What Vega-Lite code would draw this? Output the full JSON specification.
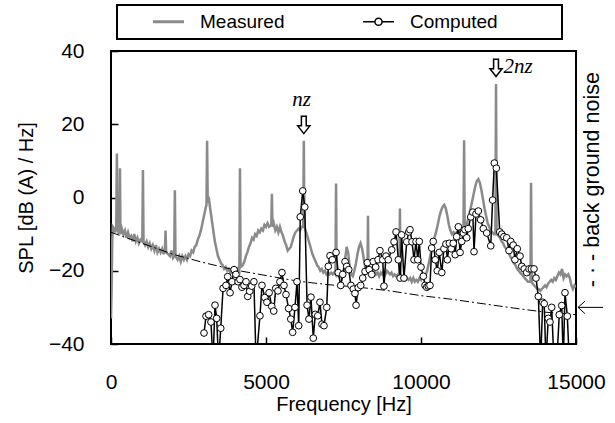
{
  "$schema": "https://vega.github.io/schema/vega-lite/v6.json",
  "width": 465,
  "height": 293,
  "autosize": {"type": "none"},
  "padding": {"left": 111, "top": 51, "right": 39, "bottom": 79},
  "background": "white",
  "config": {
    "font": "Liberation Sans",
    "view": {"stroke": "black", "strokeWidth": 2},
    "axis": {
      "grid": false,
      "domain": false,
      "tickColor": "black",
      "tickWidth": 1.5,
      "tickSize": -7,
      "labelColor": "black",
      "titleColor": "black",
      "labelFontSize": 21,
      "titleFontSize": 20,
      "titleFontWeight": "normal",
      "labelFont": "Liberation Sans",
      "titleFont": "Liberation Sans",
      "labelFlush": false
    }
  },
  "datasets": {
    "measured": [
      {"f":0,"v":-33},{"f":20,"v":-25},{"f":40,"v":-12},{"f":60,"v":-8},{"f":100,"v":-8.5},{"f":140,"v":-9.5},{"f":170,"v":-8},{"f":190,"v":12},{"f":210,"v":-8},{"f":250,"v":-10},{"f":275,"v":-9},{"f":290,"v":8},{"f":305,"v":-10},{"f":350,"v":-8.5},{"f":400,"v":-10},{"f":450,"v":-9},{"f":500,"v":-11},{"f":550,"v":-9.5},{"f":600,"v":-11},{"f":650,"v":-10.5},{"f":700,"v":-12},{"f":750,"v":-10},{"f":800,"v":-12},{"f":850,"v":-11},{"f":900,"v":-12.5},{"f":950,"v":-11.5},{"f":1010,"v":-12},{"f":1030,"v":7.5},{"f":1050,"v":-12},{"f":1100,"v":-13},{"f":1150,"v":-12},{"f":1200,"v":-13.5},{"f":1250,"v":-12.5},{"f":1300,"v":-14},{"f":1350,"v":-13},{"f":1400,"v":-14.5},{"f":1450,"v":-13},{"f":1500,"v":-15},{"f":1550,"v":-14},{"f":1600,"v":-15},{"f":1650,"v":-14},{"f":1700,"v":-15.5},{"f":1740,"v":-14},{"f":1760,"v":-9},{"f":1780,"v":-15},{"f":1850,"v":-15.5},{"f":1900,"v":-16},{"f":1950,"v":-14.5},{"f":2000,"v":-16.5},{"f":2040,"v":-16},{"f":2060,"v":2},{"f":2080,"v":-16},{"f":2150,"v":-17},{"f":2200,"v":-16},{"f":2250,"v":-17.5},{"f":2300,"v":-16},{"f":2350,"v":-17},{"f":2400,"v":-16},{"f":2450,"v":-17},{"f":2500,"v":-15.5},{"f":2550,"v":-16},{"f":2600,"v":-14.5},{"f":2650,"v":-15},{"f":2700,"v":-13.5},{"f":2750,"v":-13},{"f":2800,"v":-11.5},{"f":2850,"v":-10.5},{"f":2900,"v":-9},{"f":2950,"v":-7},{"f":3000,"v":-5},{"f":3050,"v":-3},{"f":3080,"v":-2},{"f":3100,"v":15.5},{"f":3120,"v":-1},{"f":3160,"v":-0.5},{"f":3200,"v":-3},{"f":3250,"v":-6},{"f":3300,"v":-9},{"f":3350,"v":-12},{"f":3400,"v":-14},{"f":3450,"v":-16},{"f":3500,"v":-17},{"f":3550,"v":-18},{"f":3600,"v":-18.5},{"f":3650,"v":-19.5},{"f":3700,"v":-19},{"f":3750,"v":-20},{"f":3800,"v":-19.5},{"f":3850,"v":-20.5},{"f":3900,"v":-20},{"f":3950,"v":-21},{"f":4000,"v":-20},{"f":4050,"v":-20.5},{"f":4100,"v":-19.5},{"f":4140,"v":-20},{"f":4160,"v":8},{"f":4180,"v":-19},{"f":4250,"v":-18.5},{"f":4300,"v":-17.5},{"f":4350,"v":-16},{"f":4400,"v":-15},{"f":4450,"v":-13.5},{"f":4500,"v":-12.5},{"f":4550,"v":-11},{"f":4600,"v":-11.5},{"f":4650,"v":-10},{"f":4700,"v":-10.5},{"f":4750,"v":-9},{"f":4800,"v":-9.5},{"f":4850,"v":-8.5},{"f":4900,"v":-9},{"f":4950,"v":-7.5},{"f":5000,"v":-8},{"f":5050,"v":-7},{"f":5100,"v":-8},{"f":5170,"v":-7.5},{"f":5190,"v":1},{"f":5210,"v":-8},{"f":5250,"v":-7},{"f":5300,"v":-9},{"f":5350,"v":-8},{"f":5400,"v":-9.5},{"f":5450,"v":-8},{"f":5500,"v":-9.5},{"f":5550,"v":-10.5},{"f":5600,"v":-12},{"f":5650,"v":-13},{"f":5700,"v":-14.5},{"f":5750,"v":-14},{"f":5800,"v":-13.5},{"f":5850,"v":-12},{"f":5900,"v":-10.5},{"f":5950,"v":-9.5},{"f":6000,"v":-9},{"f":6050,"v":-8.5},{"f":6100,"v":-9},{"f":6150,"v":-8},{"f":6200,"v":-8},{"f":6220,"v":15.5},{"f":6240,"v":-8},{"f":6300,"v":-9.5},{"f":6350,"v":-11},{"f":6400,"v":-12.5},{"f":6450,"v":-14},{"f":6500,"v":-15.5},{"f":6550,"v":-16.5},{"f":6600,"v":-17.5},{"f":6650,"v":-18.5},{"f":6700,"v":-19},{"f":6750,"v":-20},{"f":6800,"v":-19.5},{"f":6850,"v":-20.5},{"f":6900,"v":-20},{"f":6950,"v":-21},{"f":7000,"v":-20.5},{"f":7050,"v":-21},{"f":7100,"v":-20.5},{"f":7150,"v":-21},{"f":7200,"v":-20.5},{"f":7240,"v":-21},{"f":7260,"v":3.8},{"f":7280,"v":-21},{"f":7350,"v":-21.5},{"f":7400,"v":-21},{"f":7450,"v":-22},{"f":7500,"v":-20.5},{"f":7550,"v":-17},{"f":7600,"v":-13.5},{"f":7650,"v":-15},{"f":7700,"v":-19},{"f":7750,"v":-21},{"f":7800,"v":-21.5},{"f":7850,"v":-20},{"f":7900,"v":-18},{"f":7950,"v":-15.5},{"f":8000,"v":-13.5},{"f":8050,"v":-12.5},{"f":8100,"v":-14},{"f":8150,"v":-16.5},{"f":8200,"v":-19},{"f":8250,"v":-20},{"f":8275,"v":-19},{"f":8290,"v":-5},{"f":8305,"v":-19.5},{"f":8350,"v":-20.5},{"f":8400,"v":-20},{"f":8450,"v":-21},{"f":8500,"v":-20},{"f":8550,"v":-21},{"f":8600,"v":-20.5},{"f":8650,"v":-21.5},{"f":8700,"v":-20.5},{"f":8750,"v":-21},{"f":8800,"v":-20},{"f":8850,"v":-21},{"f":8900,"v":-20},{"f":8950,"v":-20.5},{"f":9000,"v":-21},{"f":9050,"v":-20.5},{"f":9100,"v":-21.5},{"f":9150,"v":-21},{"f":9200,"v":-21.5},{"f":9250,"v":-21},{"f":9300,"v":-21},{"f":9320,"v":-3},{"f":9340,"v":-21},{"f":9400,"v":-22},{"f":9450,"v":-21.5},{"f":9500,"v":-22.5},{"f":9550,"v":-22},{"f":9600,"v":-22.5},{"f":9650,"v":-22},{"f":9700,"v":-23},{"f":9750,"v":-22},{"f":9800,"v":-23},{"f":9850,"v":-22.5},{"f":9900,"v":-23},{"f":9950,"v":-22},{"f":10000,"v":-22.5},{"f":10050,"v":-21.5},{"f":10100,"v":-22},{"f":10150,"v":-21},{"f":10200,"v":-20},{"f":10250,"v":-18},{"f":10300,"v":-16},{"f":10350,"v":-14},{"f":10400,"v":-12},{"f":10450,"v":-10.5},{"f":10500,"v":-9},{"f":10550,"v":-7},{"f":10600,"v":-5},{"f":10650,"v":-3.5},{"f":10700,"v":-2.5},{"f":10750,"v":-2},{"f":10800,"v":-3},{"f":10850,"v":-5},{"f":10900,"v":-7.5},{"f":10950,"v":-9},{"f":11000,"v":-10},{"f":11050,"v":-9.5},{"f":11100,"v":-10},{"f":11150,"v":-9.5},{"f":11200,"v":-10},{"f":11250,"v":-9},{"f":11300,"v":-9.5},{"f":11370,"v":-9},{"f":11390,"v":15.6},{"f":11410,"v":-9},{"f":11450,"v":-8},{"f":11500,"v":-6.5},{"f":11550,"v":-5},{"f":11600,"v":-3},{"f":11650,"v":-1},{"f":11700,"v":1},{"f":11750,"v":3},{"f":11800,"v":4.5},{"f":11850,"v":5},{"f":11900,"v":4},{"f":11950,"v":2},{"f":12000,"v":-0.5},{"f":12050,"v":-3},{"f":12100,"v":-5},{"f":12150,"v":-7},{"f":12200,"v":-8},{"f":12250,"v":-9},{"f":12300,"v":-9.5},{"f":12350,"v":-10},{"f":12400,"v":-10},{"f":12420,"v":31},{"f":12440,"v":-10},{"f":12500,"v":-10.5},{"f":12550,"v":-11},{"f":12600,"v":-12},{"f":12650,"v":-12.5},{"f":12700,"v":-13.5},{"f":12750,"v":-14},{"f":12800,"v":-15},{"f":12850,"v":-15.5},{"f":12900,"v":-16.5},{"f":12950,"v":-17},{"f":13000,"v":-18},{"f":13050,"v":-18.5},{"f":13100,"v":-19.5},{"f":13150,"v":-20},{"f":13200,"v":-20.5},{"f":13250,"v":-21},{"f":13300,"v":-21.5},{"f":13350,"v":-22},{"f":13400,"v":-22.5},{"f":13450,"v":-23},{"f":13530,"v":-23},{"f":13550,"v":4},{"f":13570,"v":-23},{"f":13600,"v":-23.5},{"f":13650,"v":-24},{"f":13700,"v":-24.5},{"f":13750,"v":-25},{"f":13800,"v":-25},{"f":13850,"v":-25.5},{"f":13900,"v":-25},{"f":13950,"v":-24.5},{"f":14000,"v":-24},{"f":14050,"v":-24.5},{"f":14100,"v":-23.5},{"f":14150,"v":-23},{"f":14200,"v":-22.5},{"f":14250,"v":-23},{"f":14300,"v":-22},{"f":14350,"v":-22.5},{"f":14400,"v":-21.5},{"f":14450,"v":-20.5},{"f":14500,"v":-21},{"f":14550,"v":-19.5},{"f":14600,"v":-22},{"f":14650,"v":-21},{"f":14700,"v":-21.5},{"f":14750,"v":-21},{"f":14800,"v":-22},{"f":14850,"v":-24},{"f":14900,"v":-25},{"f":14950,"v":-24},{"f":15000,"v":-24.5}
    ],
    "computed": [
      {"f":3000,"v":-37},{"f":3065,"v":-32.4},{"f":3150,"v":-32},{"f":3225,"v":-34},{"f":3290,"v":-45},{"f":3355,"v":-29.4},{"f":3410,"v":-33},{"f":3470,"v":-45},{"f":3540,"v":-35.7},{"f":3615,"v":-24.8},{"f":3710,"v":-24},{"f":3765,"v":-21.6},{"f":3840,"v":-26},{"f":3905,"v":-23},{"f":3970,"v":-19.7},{"f":4030,"v":-21},{"f":4100,"v":-23},{"f":4160,"v":-22.4},{"f":4225,"v":-24.5},{"f":4290,"v":-24},{"f":4355,"v":-23},{"f":4410,"v":-27},{"f":4475,"v":-25.6},{"f":4540,"v":-24.2},{"f":4610,"v":-23},{"f":4680,"v":-45},{"f":4805,"v":-32.3},{"f":4870,"v":-24},{"f":4960,"v":-27.3},{"f":5030,"v":-28.6},{"f":5100,"v":-26},{"f":5185,"v":-29.7},{"f":5250,"v":-31},{"f":5315,"v":-24.8},{"f":5385,"v":-25.5},{"f":5450,"v":-23},{"f":5515,"v":-20.5},{"f":5580,"v":-24},{"f":5645,"v":-26.5},{"f":5730,"v":-30.3},{"f":5800,"v":-33.2},{"f":5860,"v":-36.8},{"f":5935,"v":-30},{"f":6000,"v":-23},{"f":6055,"v":-35},{"f":6105,"v":-5.3},{"f":6185,"v":1.8},{"f":6250,"v":-2.6},{"f":6325,"v":-29.4},{"f":6385,"v":-33.2},{"f":6450,"v":-27.2},{"f":6525,"v":-38.4},{"f":6590,"v":-31.9},{"f":6670,"v":-32.3},{"f":6740,"v":-28.6},{"f":6805,"v":-34.6},{"f":6870,"v":-35},{"f":6960,"v":-30},{"f":7010,"v":-18.8},{"f":7065,"v":-15.9},{"f":7140,"v":-17},{"f":7260,"v":-15},{"f":7330,"v":-20.5},{"f":7410,"v":-24},{"f":7475,"v":-21},{"f":7550,"v":-17.5},{"f":7605,"v":-18.8},{"f":7670,"v":-19.7},{"f":7740,"v":-24},{"f":7815,"v":-25},{"f":7870,"v":-26.2},{"f":7905,"v":-29.4},{"f":7975,"v":-24.6},{"f":8055,"v":-24},{"f":8120,"v":-22},{"f":8195,"v":-20.2},{"f":8270,"v":-17.8},{"f":8330,"v":-19.7},{"f":8410,"v":-21},{"f":8460,"v":-17.5},{"f":8540,"v":-19},{"f":8615,"v":-17},{"f":8675,"v":-14.5},{"f":8765,"v":-17},{"f":8805,"v":-24.2},{"f":8870,"v":-16},{"f":8945,"v":-17},{"f":9055,"v":-14.3},{"f":9130,"v":-12.1},{"f":9195,"v":-9.4},{"f":9270,"v":-17},{"f":9325,"v":-22},{"f":9375,"v":-10.2},{"f":9450,"v":-22},{"f":9540,"v":-12.1},{"f":9605,"v":-9.4},{"f":9645,"v":-8.8},{"f":9710,"v":-12.1},{"f":9775,"v":-17},{"f":9840,"v":-12},{"f":9895,"v":-17},{"f":9945,"v":-12},{"f":10000,"v":-19},{"f":10075,"v":-21.5},{"f":10130,"v":-24},{"f":10185,"v":-24.5},{"f":10235,"v":-24.2},{"f":10290,"v":-24},{"f":10345,"v":-13.8},{"f":10395,"v":-12},{"f":10460,"v":-17},{"f":10525,"v":-20},{"f":10590,"v":-15},{"f":10670,"v":-20.5},{"f":10740,"v":-14},{"f":10805,"v":-12.7},{"f":10850,"v":-17},{"f":10915,"v":-12.5},{"f":10975,"v":-14},{"f":11040,"v":-12.5},{"f":11105,"v":-15.6},{"f":11150,"v":-10.7},{"f":11205,"v":-8},{"f":11260,"v":-15},{"f":11315,"v":-12},{"f":11365,"v":-9.7},{"f":11420,"v":-8.8},{"f":11475,"v":-11},{"f":11525,"v":-8.5},{"f":11605,"v":-5.3},{"f":11670,"v":-4},{"f":11710,"v":-14.8},{"f":11775,"v":-4.5},{"f":11850,"v":-3.7},{"f":11925,"v":-6.1},{"f":12010,"v":-8.5},{"f":12120,"v":-9.7},{"f":12250,"v":-13.2},{"f":12310,"v":-0.7},{"f":12365,"v":9.4},{"f":12430,"v":8},{"f":12540,"v":-9.4},{"f":12605,"v":-10},{"f":12675,"v":-10.7},{"f":12765,"v":-11},{"f":12840,"v":-14.5},{"f":12895,"v":-12},{"f":12975,"v":-13},{"f":13030,"v":-17},{"f":13105,"v":-14},{"f":13195,"v":-16},{"f":13250,"v":-18.8},{"f":13330,"v":-19.5},{"f":13410,"v":-20.5},{"f":13485,"v":-19.5},{"f":13560,"v":-19.5},{"f":13645,"v":-19.5},{"f":13710,"v":-22},{"f":13785,"v":-27},{"f":13860,"v":-45},{"f":13925,"v":-28.6},{"f":13975,"v":-29},{"f":14030,"v":-45},{"f":14105,"v":-33},{"f":14160,"v":-34},{"f":14215,"v":-30},{"f":14290,"v":-45},{"f":14380,"v":-45},{"f":14460,"v":-32},{"f":14540,"v":-29.5},{"f":14590,"v":-45},{"f":14645,"v":-26},{"f":14720,"v":-32.4},{"f":14785,"v":-45}
    ],
    "noise": [
      {"f":0,"v":-9.5},{"f":1000,"v":-12.5},{"f":2000,"v":-15.5},{"f":3000,"v":-17.8},{"f":4000,"v":-19.8},{"f":5000,"v":-21.3},{"f":6000,"v":-22.8},{"f":7000,"v":-23.8},{"f":8000,"v":-24.5},{"f":9000,"v":-25.5},{"f":10000,"v":-26.8},{"f":11000,"v":-27.8},{"f":12000,"v":-29},{"f":13000,"v":-30.2},{"f":14000,"v":-31.3},{"f":15000,"v":-32}
    ],
    "arrows": [
      {"label": "nz", "f": 6220, "v": 19.8},
      {"label": "2nz", "f": 12420, "v": 35.4}
    ],
    "labels": [
      {"label": "nz", "f": 6150, "v": 26.5},
      {"label": "2nz", "f": 13130, "v": 35.6}
    ],
    "note": [
      {"label": "- · -  back ground noise", "f": 15550, "v": -24.5, "af": 15470, "av": -30}
    ]
  },
  "layer": [
    {
      "data": {"name": "measured"},
      "mark": {"type": "line", "strokeWidth": 2.5, "clip": true},
      "encoding": {
        "x": {
          "field": "f", "type": "quantitative",
          "scale": {"domain": [0, 15000], "nice": false, "zero": false},
          "axis": {"values": [0, 5000, 10000, 15000], "format": "d", "title": "Frequency [Hz]", "labelPadding": 34, "titlePadding": 2}
        },
        "y": {
          "field": "v", "type": "quantitative",
          "scale": {"domain": [-40, 40], "nice": false, "zero": false},
          "axis": {"values": [-40, -20, 0, 20, 40], "title": "SPL [dB (A) / Hz]", "labelPadding": 34, "titlePadding": 12}
        },
        "color": {
          "datum": "Measured",
          "scale": {"domain": ["Measured", "Computed"], "range": ["#8a8a8a", "#000000"]},
          "legend": {
            "orient": "none",
            "legendX": 6,
            "legendY": -46,
            "direction": "horizontal",
            "title": "x",
            "titleOrient": "right",
            "titleOpacity": 0,
            "titleFontSize": 10,
            "titlePadding": 51,
            "strokeColor": "black",
            "padding": 7,
            "symbolOffset": 35,
            "columnPadding": 49,
            "labelOffset": 22,
            "symbolSize": 961,
            "labelFontSize": 19,
            "labelFont": "Liberation Sans",
            "labelColor": "black",
            "labelLimit": 500,
            "encode": {
              "legend": {"update": {"strokeWidth": {"value": 2}}},
              "symbols": {
                "update": {
                  "shape": {"signal": "datum.value === 'Measured' ? 'M-1,0L1,0' : 'M-1,0L-0.23,0M0.23,0L1,0M-0.23,0A0.23,0.23,0,1,1,0.23,0A0.23,0.23,0,1,1,-0.23,0Z'"},
                  "strokeWidth": {"signal": "datum.value === 'Measured' ? 3 : 1.5"},
                  "fill": {"value": "white"},
                  "fillOpacity": {"value": 1},
                  "opacity": {"value": 1}
                }
              }
            }
          }
        }
      }
    },
    {
      "data": {"name": "noise"},
      "mark": {"type": "line", "color": "black", "strokeWidth": 1, "strokeDash": [9, 3, 2, 3], "clip": true},
      "encoding": {
        "x": {"field": "f", "type": "quantitative"},
        "y": {"field": "v", "type": "quantitative"}
      }
    },
    {
      "data": {"name": "computed"},
      "mark": {"type": "line", "strokeWidth": 1.5, "clip": true},
      "encoding": {
        "x": {"field": "f", "type": "quantitative"},
        "y": {"field": "v", "type": "quantitative"},
        "color": {"datum": "Computed"}
      }
    },
    {
      "data": {"name": "computed"},
      "mark": {"type": "point", "filled": true, "fill": "white", "stroke": "black", "strokeWidth": 1, "size": 45, "opacity": 1, "clip": true},
      "encoding": {
        "x": {"field": "f", "type": "quantitative"},
        "y": {"field": "v", "type": "quantitative"}
      }
    },
    {
      "data": {"name": "arrows"},
      "mark": {"type": "point", "shape": "M-0.28,-1L0.28,-1L0.28,0.1L0.7,0.1L0,1L-0.7,0.1L-0.28,0.1Z", "size": 300, "filled": true, "fill": "white", "stroke": "black", "strokeWidth": 1.5, "opacity": 1, "clip": false},
      "encoding": {
        "x": {"field": "f", "type": "quantitative"},
        "y": {"field": "v", "type": "quantitative"}
      }
    },
    {
      "data": {"name": "labels"},
      "mark": {"type": "text", "font": "Liberation Serif", "fontStyle": "italic", "fontSize": 21, "align": "center", "baseline": "middle", "color": "black", "clip": false},
      "encoding": {
        "x": {"field": "f", "type": "quantitative"},
        "y": {"field": "v", "type": "quantitative"},
        "text": {"field": "label"}
      }
    },
    {
      "data": {"name": "note"},
      "mark": {"type": "text", "font": "Liberation Sans", "fontSize": 21.5, "angle": 270, "align": "left", "baseline": "middle", "color": "black", "clip": false},
      "encoding": {
        "x": {"field": "f", "type": "quantitative"},
        "y": {"field": "v", "type": "quantitative"},
        "text": {"field": "label"}
      }
    },
    {
      "data": {"name": "note"},
      "mark": {"type": "point", "shape": "M1,0L-1,0M-0.45,-0.5L-1,0L-0.45,0.5", "size": 625, "filled": false, "stroke": "black", "strokeWidth": 1, "opacity": 1, "clip": false},
      "encoding": {
        "x": {"field": "af", "type": "quantitative"},
        "y": {"field": "av", "type": "quantitative"}
      }
    }
  ]
}
